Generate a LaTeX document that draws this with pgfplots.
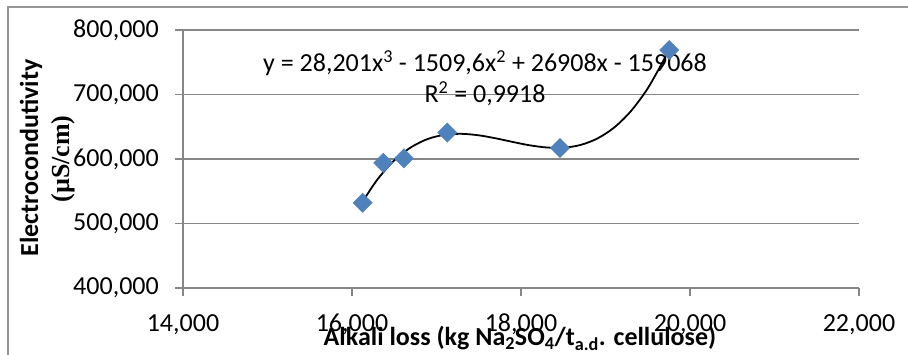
\documentclass[border=0pt]{standalone}
\usepackage{fontspec}
\setmainfont{Carlito}
\newfontfamily\serifb{Liberation Serif}
\usepackage{pgfplots}
\pgfplotsset{compat=1.18}
\definecolor{gridgray}{RGB}{134,134,134}
\definecolor{framegray}{RGB}{150,150,150}
\definecolor{markblue}{RGB}{79,129,189}
\newcommand{\bigf}{\fontsize{26}{30}\selectfont}
\begin{document}
\begin{tikzpicture}
\useasboundingbox (0pt,0pt) rectangle (908pt,355pt);
\draw[framegray, line width=1.2pt] (8pt,-10pt) -- (8pt,348pt) -- (930pt,348pt);
\begin{axis}[
  at={(183pt,67pt)}, anchor=south west,
  scale only axis, width=676pt, height=258pt,
  xmin=14, xmax=22, ymin=400, ymax=800,
  xtick={14,16,18,20,22}, ytick={400,500,600,700,800},
  axis x line*=bottom, axis y line*=left,
  axis line style={gridgray, line width=1.5pt},
  ymajorgrids, grid style={gridgray, line width=1.5pt},
  tick align=outside, major tick length=8pt,
  tick style={gridgray, line width=1.5pt},
  ticklabel style={font=\bigf, text=black},
  yticklabel style={anchor=east, inner sep=0pt, xshift=-16pt},
  xticklabel style={anchor=north, inner sep=0pt, yshift=-18pt},
  /pgf/number format/.cd, fixed, fixed zerofill, precision=3, use comma, 1000 sep={}, assume math mode=true,
]
\addplot[only marks, mark=square*, mark size=6.8pt, mark options={rotate=45, fill=markblue, draw=markblue}]
coordinates {(16.127,532) (16.370,594) (16.615,601) (17.128,641) (18.462,617) (19.755,769)};
\addplot[black, line width=1.8pt, smooth] coordinates {
(16.127,534.1) (16.3,568.1) (16.5,597.8) (16.7,618.3) (16.9,631.2) (17.1,637.6)
(17.3,639.0) (17.5,636.7) (17.7,632.1) (17.9,626.5) (18.1,621.3) (18.3,617.9)
(18.5,617.5) (18.7,621.6) (18.9,631.5) (19.1,648.5) (19.3,674.1) (19.5,709.5)
(19.7,756.1) (19.755,771.0)};
\node[font=\bigf, anchor=base, inner sep=0pt] at (axis cs:17.574,735.1) {y = 28,201x\textsuperscript{3} - 1509,6x\textsuperscript{2} + 26908x - 159068};
\node[font=\bigf, anchor=base, inner sep=0pt] at (axis cs:17.574,687.3) {R\textsuperscript{2} = 0,9918};
\end{axis}
\node[font=\bigf\bfseries, rotate=90, inner sep=0pt] at (31pt,197pt) {Electrocondutivity};
\node[font=\bigf\serifb\bfseries, rotate=90, inner sep=0pt] at (63pt,196pt) {(µS/cm)};
\node[font=\bigf\bfseries, anchor=base, inner sep=0pt] at (520pt,9pt) {Alkali loss (kg Na\textsubscript{2}SO\textsubscript{4}/t\textsubscript{a.d}. cellulose)};
\end{tikzpicture}
\end{document}
